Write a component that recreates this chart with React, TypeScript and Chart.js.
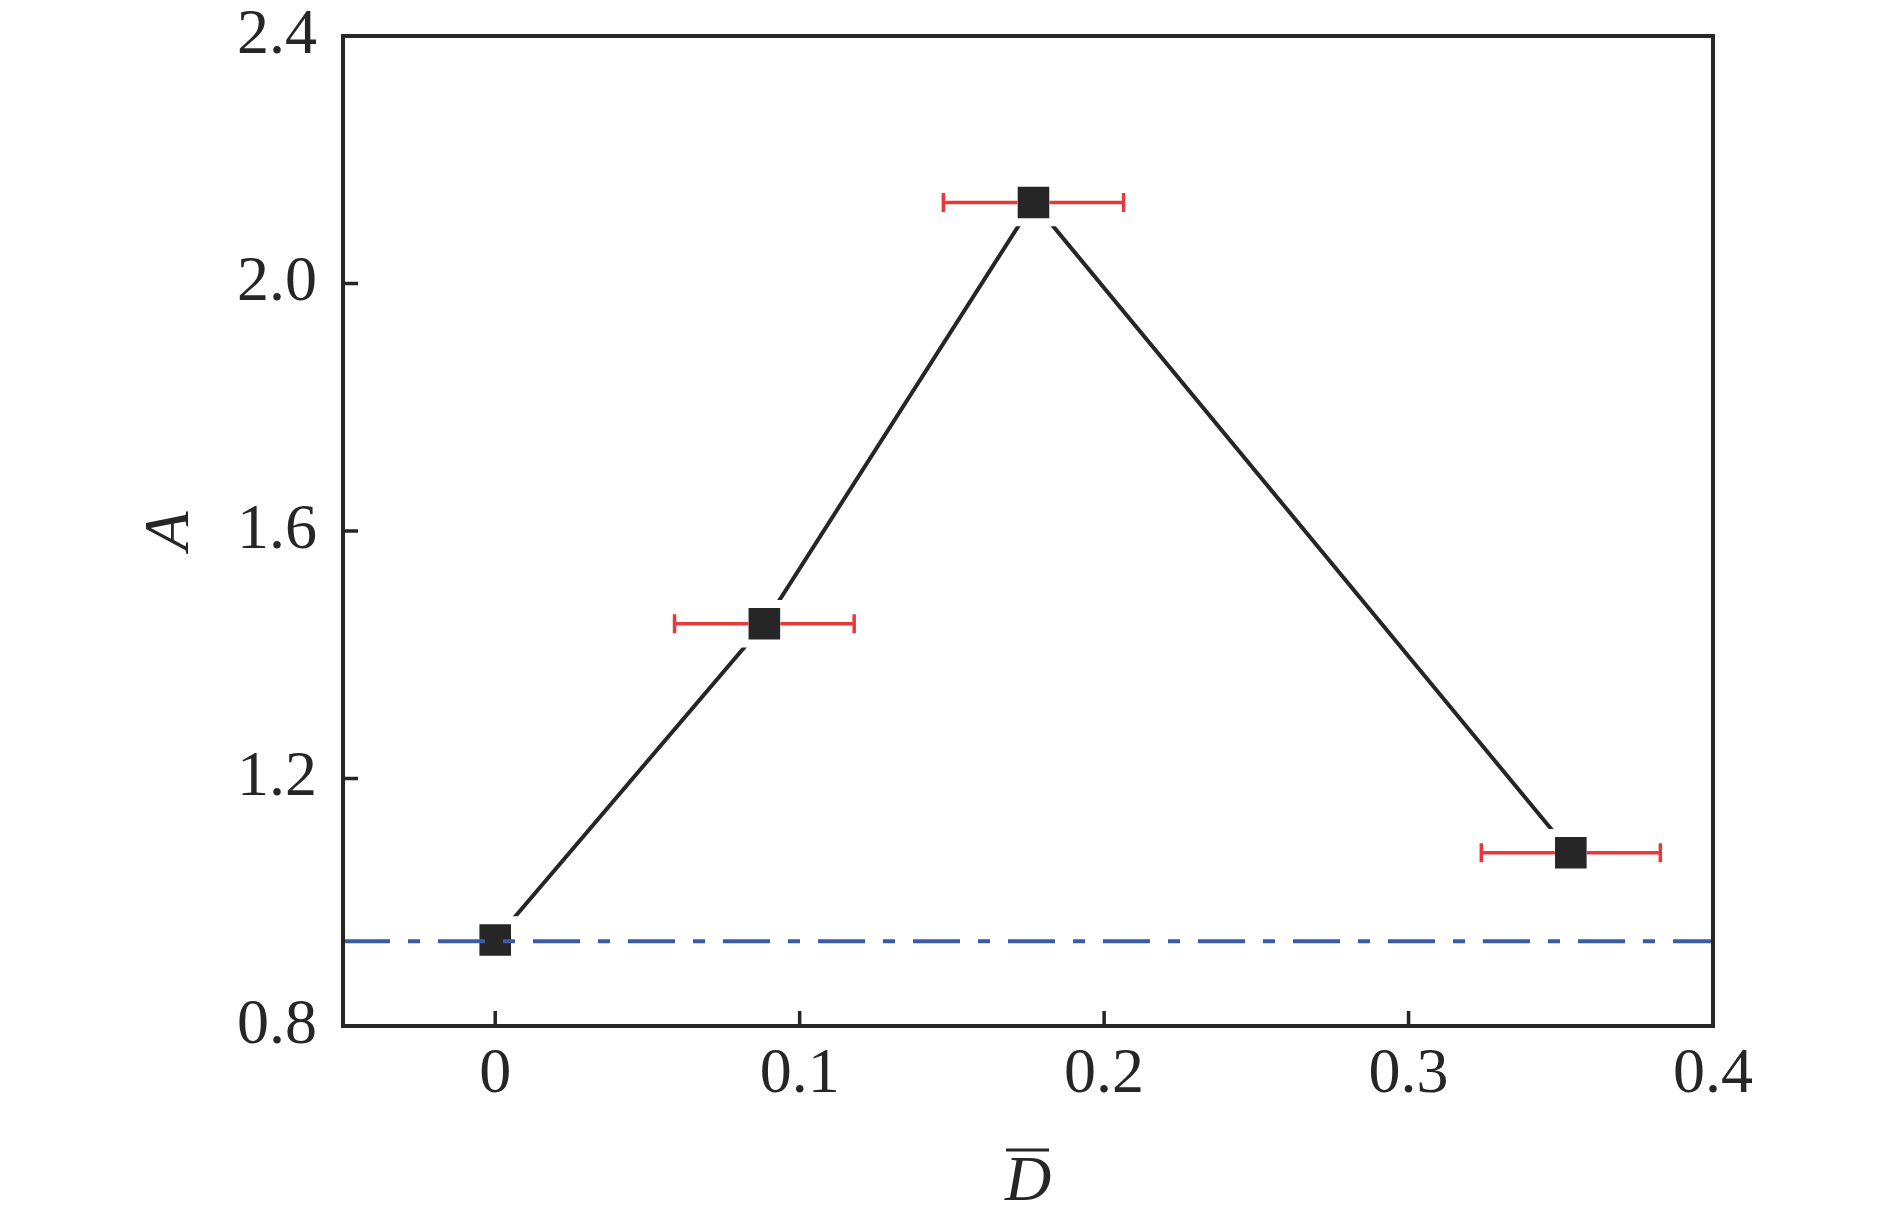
import { useEffect, useRef } from 'react';
import { Chart, registerables } from 'chart.js';

Chart.register(...registerables);

// ---- data ----
const xValues = [0, 0.0884, 0.1768, 0.3533];
const yValues = [0.939, 1.45, 2.131, 1.08];
const xErrors = [0, 0.0295, 0.0296, 0.0294];
const referenceLevel = 0.937;
const xRange = [-0.05, 0.4];
const yRange = [0.8, 2.4];
const xTicks = [0, 0.1, 0.2, 0.3, 0.4];
const xTickLabels = ['0', '0.1', '0.2', '0.3', '0.4'];
const yTicks = [0.8, 1.2, 1.6, 2.0, 2.4];
const yTickLabels = ['0.8', '1.2', '1.6', '2.0', '2.4'];

const INK = '#262626';
const RED = '#e5393b';
const BLUE = '#3a5ba6';
const FONT = "'Liberation Serif', 'Times New Roman', serif";

const decorPlugin = {
  id: 'decor',
  afterDatasetsDraw(chart: any) {
    const { ctx, scales } = chart;
    const sx = scales.x;
    const sy = scales.y;
    ctx.save();
    ctx.strokeStyle = RED;
    ctx.lineWidth = 3.5;
    ctx.lineCap = 'butt';
    xValues.forEach((x, i) => {
      const e = xErrors[i];
      if (!e) return;
      const py = sy.getPixelForValue(yValues[i]);
      const px = sx.getPixelForValue(x);
      const l = sx.getPixelForValue(x - e);
      const r = sx.getPixelForValue(x + e);
      const half = 16;
      const cap = 9.5;
      ctx.beginPath();
      ctx.moveTo(l, py);
      ctx.lineTo(px - half, py);
      ctx.moveTo(px + half, py);
      ctx.lineTo(r, py);
      ctx.moveTo(l, py - cap);
      ctx.lineTo(l, py + cap);
      ctx.moveTo(r, py - cap);
      ctx.lineTo(r, py + cap);
      ctx.stroke();
    });
    ctx.restore();
  },
  afterDraw(chart: any) {
    const { ctx, chartArea, scales } = chart;
    const { left, right, top, bottom } = chartArea;
    ctx.save();
    ctx.strokeStyle = INK;
    ctx.lineWidth = 3.5;
    const tl = 15;
    ctx.beginPath();
    scales.x.ticks.forEach((t: any) => {
      const p = scales.x.getPixelForValue(t.value);
      ctx.moveTo(p, bottom);
      ctx.lineTo(p, bottom - tl);
    });
    scales.y.ticks.forEach((t: any) => {
      const p = scales.y.getPixelForValue(t.value);
      ctx.moveTo(left, p);
      ctx.lineTo(left + tl, p);
    });
    ctx.stroke();
    ctx.lineWidth = 4;
    ctx.strokeRect(left, top, right - left, bottom - top);
    // overline of the x-axis title (mean symbol)
    const cx = (left + right) / 2;
    const ty = chart.height - 76;
    ctx.lineWidth = 3;
    ctx.beginPath();
    ctx.moveTo(cx - 22, ty);
    ctx.lineTo(cx + 21, ty);
    ctx.stroke();
    ctx.restore();
  },
};

export default function App() {
  const canvasRef = useRef<HTMLCanvasElement | null>(null);

  useEffect(() => {
    document.body.style.margin = '0';
    const canvas = canvasRef.current;
    if (!canvas) return;
    const chart = new Chart(canvas, {
      type: 'line',
      data: {
        datasets: [
          {
            label: 'ref',
            data: xRange.map((x) => ({ x, y: referenceLevel })),
            borderColor: BLUE,
            borderWidth: 4,
            borderDash: [47, 18, 12, 18],
            pointRadius: 0,
            fill: false,
            order: 0,
          },
          {
            label: 'A',
            data: xValues.map((x, i) => ({ x, y: yValues[i] })),
            borderColor: INK,
            borderWidth: 4,
            pointStyle: 'rect',
            pointRadius: 28,
            pointBackgroundColor: INK,
            pointBorderColor: '#ffffff',
            pointBorderWidth: 8,
            tension: 0,
            fill: false,
            order: 1,
          },
        ],
      },
      options: {
        animation: false,
        responsive: true,
        maintainAspectRatio: false,
        events: [],
        layout: { padding: { top: 34, right: 177, left: 0, bottom: 0 } },
        plugins: {
          legend: { display: false },
          tooltip: { enabled: false },
        },
        scales: {
          x: {
            type: 'linear',
            min: xRange[0],
            max: xRange[1],
            afterBuildTicks: (scale: any) => {
              scale.ticks = xTicks.map((v) => ({ value: v }));
            },
            afterFit: (scale: any) => {
              scale.height = 200;
              scale.paddingLeft = 0;
              scale.paddingRight = 0;
            },
            grid: { display: false, drawTicks: false },
            border: { display: false },
            ticks: {
              padding: 11,
              color: INK,
              font: { family: FONT, size: 64 },
              maxRotation: 0,
              callback: (v: any) => {
                const i = xTicks.findIndex((t) => Math.abs(t - Number(v)) < 1e-9);
                return i >= 0 ? xTickLabels[i] : '';
              },
            },
            title: {
              display: true,
              text: 'D',
              color: INK,
              font: { family: FONT, size: 64, style: 'italic' },
              padding: { top: 0, bottom: 4 },
            },
          },
          y: {
            type: 'linear',
            min: yRange[0],
            max: yRange[1],
            afterBuildTicks: (scale: any) => {
              scale.ticks = yTicks.map((v) => ({ value: v }));
            },
            afterFit: (scale: any) => {
              scale.width = 343;
              scale.paddingTop = 0;
              scale.paddingBottom = 0;
            },
            grid: { display: false, drawTicks: false },
            border: { display: false },
            ticks: {
              padding: 26,
              color: INK,
              font: { family: FONT, size: 64 },
              callback: (v: any) => {
                const i = yTicks.findIndex((t) => Math.abs(t - Number(v)) < 1e-9);
                return i >= 0 ? yTickLabels[i] : '';
              },
            },
            title: {
              display: true,
              text: 'A',
              color: INK,
              font: { family: FONT, size: 64, style: 'italic' },
              padding: { top: 133, bottom: 0 },
            },
          },
        },
      },
      plugins: [decorPlugin],
    } as any);
    return () => chart.destroy();
  }, []);

  return (
    <div style={{ width: 1890, height: 1226, position: 'relative', background: '#ffffff' }}>
      <canvas ref={canvasRef} />
    </div>
  );
}
